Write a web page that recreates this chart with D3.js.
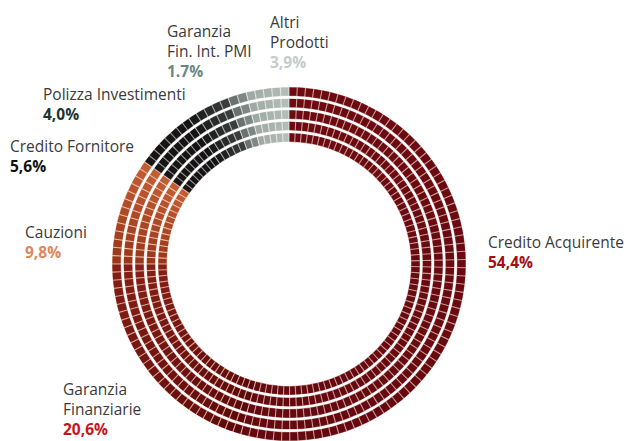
<!DOCTYPE html>
<html>
<head>
<meta charset="utf-8">
<script src="https://cdn.jsdelivr.net/npm/d3@7"></script>
<style>
  body { margin: 0; background: #fff; }
  svg { display: block; }
</style>
</head>
<body>
<svg id="chart" width="630" height="441"></svg>
<script>
// Portfolio share by product line (percent of total)
const categories = [
  "Credito Acquirente", "Garanzia Finanziarie", "Cauzioni", "Credito Fornitore",
  "Polizza Investimenti", "Garanzia Fin. Int. PMI", "Altri Prodotti"
];
const shares = [54.4, 20.6, 9.8, 5.6, 4.0, 1.7, 3.9];
const shareLabels = ["54,4%", "20,6%", "9,8%", "5,6%", "4,0%", "1.7%", "3,9%"];
const nameLines = [
  ["Credito Acquirente"], ["Garanzia", "Finanziarie"], ["Cauzioni"], ["Credito Fornitore"],
  ["Polizza Investimenti"], ["Garanzia", "Fin. Int. PMI"], ["Altri", "Prodotti"]
];

// cell shading: colour at the start and end of each slice (clockwise)
const cellShades = [
  ["#6e0a11", "#650810"],
  ["#5c0808", "#861f15"],
  ["#963519", "#c45e33"],
  ["#1a1414", "#121212"],
  ["#141414", "#3e4340"],
  ["#5f6864", "#88928d"],
  ["#9ba7a0", "#b6c0ba"]
];
const valueColors = ["#a10f19", "#c4151b", "#e0855c", "#111111", "#1d3530", "#6b8884", "#c6ccc9"];

// label anchors (left edge, first baseline)
const labelPos = [[488, 248], [63, 395], [25, 238], [10, 152], [43, 100], [167, 37], [270, 28]];

const svg = d3.select("#chart");
const cx = 289, cy = 264;
const outerR = 177, innerR = 122;
const ringCount = 5, ringGap = 2.4;
const ringW = (outerR - innerR - ringGap * (ringCount - 1)) / ringCount;
const cellLen = 8.3;          // tangential cell size on the outer ring
const cellGap = 1.1;          // gap between neighbouring cells

const pie = d3.pie().sort(null).value(d => d).startAngle(0).endAngle(2 * Math.PI);
const slices = pie(shares);

const g = svg.append("g").attr("transform", `translate(${cx},${cy})`);
const arc = d3.arc();
const cellAngle = cellLen / outerR;

const rings = d3.range(ringCount).map(i => {
  const r1 = outerR - i * (ringW + ringGap);
  return { r0: r1 - ringW, r1 };
});

slices.forEach((s, si) => {
  const span = s.endAngle - s.startAngle;
  const n = Math.max(1, Math.round(span / cellAngle));
  const step = span / n;
  const shade = d3.interpolateLab(cellShades[si][0], cellShades[si][1]);
  const tint = d3.interpolateLab(cellShades[si][1], "#ffffff")(0.6);

  rings.forEach(ring => {
    // tinted band showing through the seams between cells
    g.append("path")
      .attr("d", arc({ innerRadius: ring.r0, outerRadius: ring.r1,
                       startAngle: s.startAngle, endAngle: s.endAngle }))
      .attr("fill", tint);

    const rm = (ring.r0 + ring.r1) / 2;
    const half = cellGap / 2 / rm;
    const cells = d3.range(n).map(k => ({
      a0: s.startAngle + k * step + half,
      a1: s.startAngle + (k + 1) * step - half,
      t: (k + 0.5) / n
    }));
    g.selectAll(null)
      .data(cells)
      .join("path")
      .attr("d", c => arc({ innerRadius: ring.r0 + 0.4, outerRadius: ring.r1 - 0.4,
                            startAngle: c.a0, endAngle: c.a1 }))
      .attr("fill", c => shade(c.t));
  });
});

// labels
const font = "'Open Sans', 'Noto Sans', sans-serif";
categories.forEach((name, i) => {
  const [x, y] = labelPos[i];
  const t = svg.append("text")
    .attr("x", x).attr("y", y)
    .attr("font-family", font)
    .attr("font-size", 15.5)
    .attr("fill", "#3b3b3b");
  nameLines[i].forEach((line, li) => {
    t.append("tspan").attr("x", x).attr("dy", li === 0 ? 0 : 20).text(line);
  });
  svg.append("text")
    .attr("x", x)
    .attr("y", y + 20 * nameLines[i].length)
    .attr("font-family", font)
    .attr("font-size", 15.5)
    .attr("font-weight", "bold")
    .attr("fill", valueColors[i])
    .text(shareLabels[i]);
});
</script>
</body>
</html>
